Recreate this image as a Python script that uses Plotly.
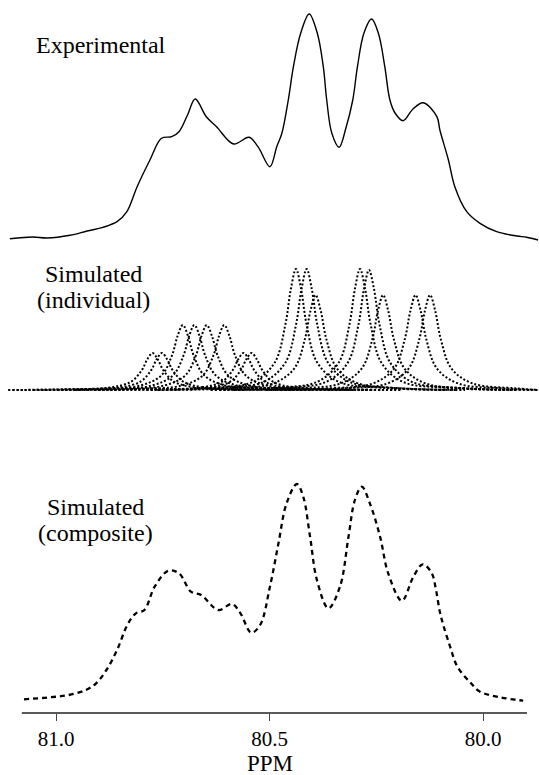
import plotly.graph_objects as go

# ---------------- data (ppm, intensity in arbitrary units) ----------------
exp_ppm = [81.108, 81.054, 81.021, 80.967, 80.927, 80.890, 80.857, 80.834, 80.810, 80.780,
           80.753, 80.729, 80.712, 80.692, 80.674, 80.648, 80.624, 80.584, 80.548, 80.527,
           80.499, 80.483, 80.471, 80.456, 80.444, 80.427, 80.407, 80.388, 80.374, 80.366,
           80.354, 80.337, 80.321, 80.305, 80.294, 80.279, 80.261, 80.245, 80.230, 80.218,
           80.206, 80.187, 80.164, 80.140, 80.108, 80.101, 80.081, 80.066, 80.038, 80.007,
           79.968, 79.921, 79.898, 79.871]
exp_int = [1.3, 3, 2, 4.7, 9, 12.7, 18.3, 28.3, 53.3, 80,
           101.7, 103.3, 108.3, 125, 141, 123.3, 113.3, 96, 102.7, 93.3,
           73.3, 93.3, 106.7, 140, 173.3, 206.7, 226, 206.7, 173.3, 140,
           106.7, 92.7, 112, 140, 173.3, 206.7, 221, 206.7, 173.3, 140,
           127, 119.3, 131, 137.3, 123.3, 110, 80, 53.3, 28.3, 16.7,
           8.3, 4, 2.7, 0]

ind_ppm = [
    [81.112, 80.974, 80.874, 80.824, 80.799, 80.786, 80.774, 80.762, 80.749, 80.724, 80.674, 80.574, 80.424],
    [81.102, 80.952, 80.852, 80.802, 80.777, 80.764, 80.752, 80.740, 80.727, 80.702, 80.652, 80.552, 80.402],
    [81.053, 80.903, 80.803, 80.753, 80.728, 80.715, 80.703, 80.691, 80.678, 80.653, 80.603, 80.503, 80.353],
    [81.026, 80.876, 80.776, 80.726, 80.701, 80.688, 80.676, 80.664, 80.651, 80.626, 80.576, 80.476, 80.326],
    [80.997, 80.847, 80.747, 80.697, 80.672, 80.659, 80.647, 80.635, 80.622, 80.597, 80.547, 80.447, 80.297],
    [80.956, 80.806, 80.706, 80.656, 80.631, 80.618, 80.606, 80.594, 80.581, 80.556, 80.506, 80.406, 80.256],
    [80.911, 80.761, 80.661, 80.611, 80.586, 80.573, 80.561, 80.549, 80.536, 80.511, 80.461, 80.361, 80.211],
    [80.892, 80.742, 80.642, 80.592, 80.567, 80.554, 80.542, 80.530, 80.517, 80.492, 80.442, 80.342, 80.192],
    [80.788, 80.638, 80.538, 80.488, 80.463, 80.450, 80.438, 80.426, 80.413, 80.388, 80.338, 80.238, 80.088],
    [80.763, 80.613, 80.513, 80.463, 80.438, 80.425, 80.413, 80.401, 80.388, 80.363, 80.313, 80.213, 80.063],
    [80.742, 80.592, 80.492, 80.442, 80.417, 80.404, 80.392, 80.380, 80.367, 80.342, 80.292, 80.192, 80.042],
    [80.638, 80.488, 80.388, 80.338, 80.313, 80.300, 80.288, 80.276, 80.263, 80.238, 80.188, 80.088, 79.938],
    [80.617, 80.467, 80.367, 80.317, 80.292, 80.279, 80.267, 80.255, 80.242, 80.217, 80.167, 80.067, 79.917],
    [80.584, 80.434, 80.334, 80.284, 80.259, 80.246, 80.234, 80.222, 80.209, 80.184, 80.134, 80.034, 79.884],
    [80.508, 80.358, 80.258, 80.208, 80.183, 80.170, 80.158, 80.146, 80.133, 80.108, 80.058, 79.958, 79.871],
    [80.474, 80.324, 80.224, 80.174, 80.149, 80.136, 80.124, 80.112, 80.099, 80.074, 80.024, 79.924, 79.871],
]
ind_int = [
    [0, 0.7, 2.5, 8.4, 19.9, 30.9, 37, 30.9, 19.9, 8.4, 2.5, 0.7, 0],
    [0, 0.7, 2.5, 8.4, 19.9, 30.9, 37, 30.9, 19.9, 8.4, 2.5, 0.7, 0],
    [0, 1.2, 4.4, 14.7, 35.0, 54.3, 65, 54.3, 35.0, 14.7, 4.4, 1.2, 0],
    [0, 1.2, 4.4, 14.7, 35.0, 54.3, 65, 54.3, 35.0, 14.7, 4.4, 1.2, 0],
    [0, 1.2, 4.4, 14.7, 35.0, 54.3, 65, 54.3, 35.0, 14.7, 4.4, 1.2, 0],
    [0, 1.2, 4.4, 14.7, 35.0, 54.3, 65, 54.3, 35.0, 14.7, 4.4, 1.2, 0],
    [0, 0.7, 2.5, 8.4, 19.9, 30.9, 37, 30.9, 19.9, 8.4, 2.5, 0.7, 0],
    [0, 0.7, 2.5, 8.4, 19.9, 30.9, 37, 30.9, 19.9, 8.4, 2.5, 0.7, 0],
    [0, 2.2, 8.2, 27.3, 65.1, 101.0, 121, 101.0, 65.1, 27.3, 8.2, 2.2, 0],
    [0, 2.2, 8.2, 27.3, 65.1, 101.0, 121, 101.0, 65.1, 27.3, 8.2, 2.2, 0],
    [0, 1.7, 6.5, 21.5, 51.1, 79.3, 95, 79.3, 51.1, 21.5, 6.5, 1.7, 0],
    [0, 2.2, 8.2, 27.3, 65.1, 101.0, 121, 101.0, 65.1, 27.3, 8.2, 2.2, 0],
    [0, 2.2, 8.2, 27.1, 64.6, 100.2, 120, 100.2, 64.6, 27.1, 8.2, 2.2, 0],
    [0, 1.7, 6.5, 21.5, 51.1, 79.3, 95, 79.3, 51.1, 21.5, 6.5, 1.7, 0],
    [0, 1.7, 6.5, 21.5, 51.1, 79.3, 95, 79.3, 51.1, 21.5, 6.5, 1.7, 0],
    [0, 1.7, 6.5, 21.5, 51.1, 79.3, 95, 79.3, 51.1, 21.5, 6.5, 1.7, 0],
]

comp_ppm = [81.075, 81.014, 80.970, 80.930, 80.906, 80.882, 80.857, 80.833, 80.813, 80.793,
            80.769, 80.737, 80.712, 80.684, 80.660, 80.620, 80.588, 80.568, 80.543, 80.522,
            80.499, 80.479, 80.460, 80.436, 80.421, 80.405, 80.389, 80.362, 80.335, 80.315,
            80.300, 80.284, 80.265, 80.241, 80.222, 80.190, 80.163, 80.141, 80.120, 80.110,
            80.101, 80.093, 80.077, 80.060, 80.028, 80.007, 79.960, 79.906]
comp_int = [1.7, 3.7, 6, 11, 17.7, 31, 51, 76, 87.7, 91,
            114.3, 130.3, 127.7, 109.3, 106, 91, 97, 87.7, 68.3, 76,
            114.3, 157.7, 197.7, 217, 204.3, 164.3, 121, 92.7, 114.3, 164.3,
            201, 214.3, 197.7, 164.3, 127.7, 100.3, 124.3, 136.7, 127.7, 111,
            89, 76, 54.3, 34.3, 17.7, 9.3, 3.7, 0.3]

tick_vals = [81.0, 80.5, 80.0]
tick_text = ["81.0", "80.5", "80.0"]
x_title = "PPM"
panel_labels = ["Experimental", "Simulated", "(individual)", "Simulated", "(composite)"]

# ---------------- layout helpers ----------------
W, H = 539, 775
PLOT_H = 713  # plot area bottom in px (margin b = H - PLOT_H)
FONT = "Liberation Serif, Times New Roman, serif"


def py(px):
    return (PLOT_H - px) / PLOT_H


fig = go.Figure()

fig.add_trace(go.Scatter(x=exp_ppm, y=exp_int, mode="lines", xaxis="x", yaxis="y",
                         line=dict(color="black", width=1.4, shape="spline", smoothing=1.0),
                         showlegend=False, hoverinfo="skip"))
for xs, ys in zip(ind_ppm, ind_int):
    fig.add_trace(go.Scatter(x=xs, y=ys, mode="lines", xaxis="x", yaxis="y2",
                             line=dict(color="black", width=2, dash="2px,2px",
                                       shape="spline", smoothing=1.0),
                             showlegend=False, hoverinfo="skip"))
fig.add_trace(go.Scatter(x=comp_ppm, y=comp_int, mode="lines", xaxis="x", yaxis="y3",
                         line=dict(color="black", width=2.3, dash="5px,4px",
                                   shape="spline", smoothing=1.0),
                         showlegend=False, hoverinfo="skip"))

x_left = 81.0 + 56 / 427
x_right = 80.0 - (W - 483) / 427

annotations = [
    dict(text=panel_labels[0], x=34 / W, y=py(45), xanchor="left"),
    dict(text=panel_labels[1], x=94 / W, y=py(274), xanchor="center"),
    dict(text=panel_labels[2], x=94 / W, y=py(300), xanchor="center"),
    dict(text=panel_labels[3], x=95 / W, y=py(507), xanchor="center"),
    dict(text=panel_labels[4], x=95 / W, y=py(533), xanchor="center"),
]
for a in annotations:
    a.update(xref="paper", yref="paper", yanchor="middle", showarrow=False,
             font=dict(family=FONT, size=24, color="black"))
annotations.append(dict(text=x_title, xref="x", x=80.5, yref="paper", y=py(763),
                        xanchor="center", yanchor="middle", showarrow=False,
                        borderpad=0,
                        font=dict(family=FONT, size=23, color="black")))

fig.update_layout(
    width=W, height=H,
    margin=dict(l=0, r=0, t=0, b=H - PLOT_H, pad=0),
    paper_bgcolor="white", plot_bgcolor="white",
    xaxis=dict(range=[x_left, x_right], anchor="y3", showgrid=False, zeroline=False,
               showline=False, tickvals=tick_vals, ticktext=tick_text,
               ticks="outside", ticklen=7, tickwidth=1, tickcolor="#444",
               tickfont=dict(family=FONT, size=21, color="black"), automargin=False),
    yaxis=dict(domain=[py(250), 1.0], range=[-10, 240], visible=False),
    yaxis2=dict(domain=[py(400), py(255)], range=[-10, 135], visible=False),
    yaxis3=dict(domain=[0.0, py(460)], range=[-12, 241], visible=False),
    annotations=annotations,
    shapes=[dict(type="line", xref="x", yref="paper", x0=81.080, x1=79.897, y0=0, y1=0,
                 line=dict(color="#222", width=1.4))],
)

fig.write_html("out.html")
